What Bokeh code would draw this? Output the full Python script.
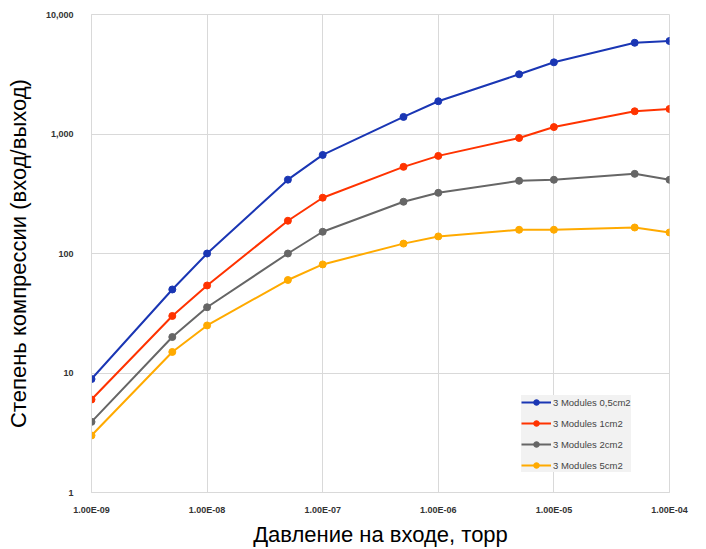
from bokeh.plotting import figure
from bokeh.models import FixedTicker, CustomJSTickFormatter, NumeralTickFormatter, Legend, LegendItem
from bokeh.embed import file_html
from bokeh.resources import INLINE

pressure = [1e-9, 5e-9, 1e-8, 5e-8, 1e-7, 5e-7, 1e-6, 5e-6, 1e-5, 5e-5, 1e-4]
s_05 = [8.9, 50, 100, 415, 668, 1390, 1880, 3160, 3980, 5800, 6000]
s_1 = [6, 30, 54, 188, 293, 531, 656, 926, 1143, 1550, 1620]
s_2 = [3.9, 20, 35.5, 100, 152, 271, 322, 406, 414, 464, 414]
s_5 = [3, 15, 25, 60, 81, 121, 139, 158, 158, 165, 150]
names = ["3 Modules 0,5cm2", "3 Modules 1cm2", "3 Modules 2cm2", "3 Modules 5cm2"]
colors = ["#1a36b4", "#ff3300", "#666666", "#ffaa00"]
x_ticks = [1e-9, 1e-8, 1e-7, 1e-6, 1e-5, 1e-4]
y_ticks = [1, 10, 100, 1000, 10000]

p = figure(width=706, height=549, x_axis_type="log", y_axis_type="log",
           x_range=(1e-9, 1e-4), y_range=(1, 10000),
           output_backend="svg", toolbar_location=None,
           min_border_left=91, min_border_right=37, min_border_top=14, min_border_bottom=55)
p.outline_line_color = "#d9d9d9"
p.background_fill_color = "white"
p.border_fill_color = "white"

items = []
for ys, nm, c in zip([s_05, s_1, s_2, s_5], names, colors):
    r1 = p.line(pressure, ys, line_color=c, line_width=2)
    r2 = p.scatter(pressure, ys, size=7, fill_color=c, line_color=c)
    items.append(LegendItem(label=nm, renderers=[r1, r2]))

p.xaxis.ticker = FixedTicker(ticks=x_ticks)
p.yaxis.ticker = FixedTicker(ticks=y_ticks)
p.xaxis.formatter = CustomJSTickFormatter(code="""
const e = Math.round(Math.log10(tick));
return "1.00E" + (e < 0 ? "-" : "+") + String(Math.abs(e)).padStart(2, "0");
""")
p.yaxis.formatter = NumeralTickFormatter(format="0,0")

for ax in (p.xaxis, p.yaxis):
    ax.axis_line_color = "#d9d9d9"
    ax.major_tick_line_color = None
    ax.minor_tick_line_color = None
    ax.major_label_text_font = "Liberation Sans"
    ax.major_label_text_font_size = "9px"
    ax.major_label_text_font_style = "bold"
    ax.major_label_text_color = "#333333"
    ax.axis_label_text_font = "Liberation Sans"
    ax.axis_label_text_font_size = "22px"
    ax.axis_label_text_font_style = "normal"
    ax.axis_label_text_color = "black"

p.xaxis.major_label_standoff = 6
p.yaxis.major_label_standoff = 12
p.xaxis.axis_label = "Давление на входе, торр"
p.yaxis.axis_label = "Степень компрессии (вход/выход)"
p.xaxis.axis_label_standoff = 4
p.yaxis.axis_label_standoff = 12

p.xgrid.grid_line_color = "#d9d9d9"
p.ygrid.grid_line_color = "#d9d9d9"
p.xgrid.ticker = FixedTicker(ticks=x_ticks)
p.ygrid.ticker = FixedTicker(ticks=y_ticks)

legend = Legend(items=items, location=(430, 20))
legend.background_fill_color = "#f2f2f2"
legend.background_fill_alpha = 1
legend.border_line_color = None
legend.label_text_font = "Liberation Sans"
legend.label_text_font_size = "9.5px"
legend.label_height = 14
legend.glyph_height = 14
legend.glyph_width = 30
legend.spacing = 7
legend.padding = 6
legend.margin = 0
legend.label_standoff = 2
p.add_layout(legend, "center")

open("out.html", "w").write(file_html(p, INLINE))
